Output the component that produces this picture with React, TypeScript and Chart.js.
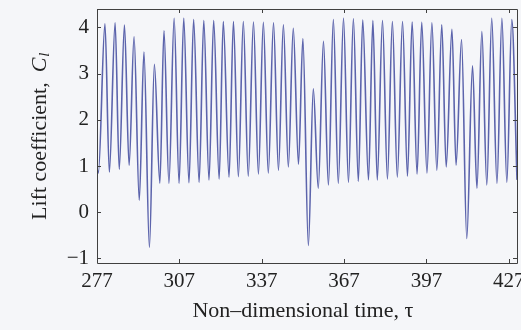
import React, { useEffect, useRef } from "react";
import { Chart, registerables } from "chart.js";

Chart.register(...registerables);

// Lift coefficient history: successive peaks and troughs of the shedding cycle
const timeTau = [
  277.0, 277.5, 279.9, 281.5, 283.6, 285.1, 287.0, 288.7, 290.5, 292.4,
  294.1, 296.1, 297.9, 299.9, 301.4, 303.2, 305.1, 306.9, 308.6, 310.5,
  312.2, 314.2, 315.9, 317.8, 319.5, 321.5, 323.0, 325.1, 326.7, 328.5,
  330.3, 332.1, 334.0, 335.8, 337.6, 339.4, 341.3, 343.1, 344.9, 346.7,
  348.5, 350.4, 352.0, 354.0, 355.8, 357.6, 359.5, 361.3, 363.1, 364.9,
  366.8, 368.6, 370.4, 372.2, 373.8, 375.9, 377.5, 379.1, 381.0, 382.8,
  384.6, 386.4, 388.3, 390.1, 391.8, 393.6, 395.3, 397.2, 399.0, 400.8,
  402.6, 404.2, 406.3, 407.8, 409.8, 411.7, 413.8, 415.4, 417.2, 419.0,
  420.8, 422.7, 424.5, 426.3, 428.1, 430.0,
];

const liftCl = [
  0.95, 0.85, 4.08, 0.87, 4.10, 0.93, 4.05, 1.02, 3.80, 0.26,
  3.47, -0.76, 3.20, 0.63, 3.93, 0.63, 4.20, 0.63, 4.20, 0.64,
  4.17, 0.65, 4.15, 0.70, 4.15, 0.72, 4.13, 0.76, 4.13, 0.77,
  4.13, 0.78, 4.12, 0.83, 4.11, 0.85, 4.10, 0.91, 4.06, 0.98,
  3.98, 1.04, 3.76, -0.72, 2.67, 0.52, 3.70, 0.59, 4.17, 0.63,
  4.20, 0.65, 4.19, 0.67, 4.16, 0.70, 4.15, 0.70, 4.15, 0.72,
  4.13, 0.76, 4.13, 0.78, 4.12, 0.83, 4.11, 0.85, 4.10, 0.91,
  4.06, 0.98, 3.96, 1.02, 3.74, -0.57, 3.17, 0.52, 3.91, 0.59,
  4.20, 0.63, 4.20, 0.65, 4.17, 0.70,
];

const xTickValues = [277, 307, 337, 367, 397, 427];
const yTickValues = [-1, 0, 1, 2, 3, 4];
const xRange = [277, 430];
const yRange = [-1.1, 4.4];

const xAxisTitle = "Non\u2013dimensional time, \u03c4";
const yAxisTitle = "Lift coefficient,";
const yAxisSymbol = "C";
const yAxisSubscript = "l";

const PAGE_BG = "#f5f6f9";
const LINE_COLOR = "rgb(92, 100, 172)";
const INK = "#222222";
const FRAME = "#404040";
const SERIF = "'Liberation Serif', 'Times New Roman', serif";

// Paper background, the boxed frame with inward ticks, and the axis titles
const framePlugin = {
  id: "frameAndTitles",
  beforeDraw(chart: any) {
    const { ctx, width, height } = chart;
    ctx.save();
    ctx.fillStyle = PAGE_BG;
    ctx.fillRect(0, 0, width, height);
    ctx.restore();
  },
  afterDraw(chart: any) {
    const { ctx } = chart;
    const { left, right, top, bottom } = chart.chartArea;
    const xs = chart.scales.x;
    const ys = chart.scales.y;
    const tick = 4;

    ctx.save();
    ctx.strokeStyle = FRAME;
    ctx.lineWidth = 1;
    ctx.beginPath();
    ctx.rect(Math.round(left) + 0.5, Math.round(top) + 0.5, Math.round(right - left), Math.round(bottom - top));
    for (const v of xTickValues) {
      const px = Math.round(xs.getPixelForValue(v)) + 0.5;
      ctx.moveTo(px, bottom);
      ctx.lineTo(px, bottom - tick);
      ctx.moveTo(px, top);
      ctx.lineTo(px, top + tick);
    }
    for (const v of yTickValues) {
      const py = Math.round(ys.getPixelForValue(v)) + 0.5;
      ctx.moveTo(left, py);
      ctx.lineTo(left + tick, py);
      ctx.moveTo(right, py);
      ctx.lineTo(right - tick, py);
    }
    ctx.stroke();

    // x title, centred on the labelled tick span
    ctx.fillStyle = INK;
    ctx.font = `22px ${SERIF}`;
    ctx.textAlign = "center";
    ctx.textBaseline = "alphabetic";
    const xMid =
      (xs.getPixelForValue(xTickValues[0]) + xs.getPixelForValue(xTickValues[xTickValues.length - 1])) / 2;
    ctx.fillText(xAxisTitle, xMid, 317);

    // y title, rotated, with italic C and subscript l
    ctx.translate(46, 220);
    ctx.rotate(-Math.PI / 2);
    ctx.textAlign = "left";
    ctx.font = `22px ${SERIF}`;
    ctx.fillText(yAxisTitle, 0, 0);
    let pos = ctx.measureText(yAxisTitle).width + 10;
    ctx.font = `italic 22px ${SERIF}`;
    ctx.fillText(yAxisSymbol, pos, 0);
    pos += ctx.measureText(yAxisSymbol).width + 1;
    ctx.font = `italic 15px ${SERIF}`;
    ctx.fillText(yAxisSubscript, pos, 3);
    ctx.restore();
  },
};

export default function App() {
  const canvasRef = useRef<HTMLCanvasElement | null>(null);

  useEffect(() => {
    document.body.style.margin = "0";
    document.body.style.background = PAGE_BG;
    const canvas = canvasRef.current;
    if (!canvas) return;

    const points = timeTau.map((t, i) => ({ x: t, y: liftCl[i] }));

    const chart = new Chart(canvas, {
      type: "line",
      data: {
        datasets: [
          {
            data: points,
            borderColor: LINE_COLOR,
            borderWidth: 1.6,
            pointRadius: 0,
            fill: false,
            cubicInterpolationMode: "monotone",
          },
        ],
      },
      options: {
        responsive: false,
        animation: false,
        devicePixelRatio: 1,
        layout: { padding: { left: 0, right: 4, top: 9, bottom: 0 } },
        plugins: {
          legend: { display: false },
          tooltip: { enabled: false },
          title: { display: false },
        },
        scales: {
          x: {
            type: "linear",
            min: xRange[0],
            max: xRange[1],
            grid: { display: false, drawTicks: false },
            border: { display: false },
            ticks: {
              color: INK,
              font: { family: SERIF, size: 21 },
              padding: 6,
              maxRotation: 0,
              autoSkip: false,
            },
            afterBuildTicks: (scale: any) => {
              scale.ticks = xTickValues.map((v) => ({ value: v }));
            },
            afterFit: (scale: any) => {
              scale.height = 67;
              scale.paddingLeft = 0;
              scale.paddingRight = 0;
            },
          },
          y: {
            type: "linear",
            min: yRange[0],
            max: yRange[1],
            grid: { display: false, drawTicks: false },
            border: { display: false },
            ticks: {
              color: INK,
              font: { family: SERIF, size: 21 },
              padding: 8,
              autoSkip: false,
              callback: (v: any) => String(v).replace("-", "\u2212"),
            },
            afterBuildTicks: (scale: any) => {
              scale.ticks = yTickValues.map((v) => ({ value: v }));
            },
            afterFit: (scale: any) => {
              scale.width = 97;
              scale.paddingTop = 0;
              scale.paddingBottom = 0;
            },
          },
        },
      },
      plugins: [framePlugin],
    });

    return () => chart.destroy();
  }, []);

  return (
    <div style={{ width: 521, height: 330 }}>
      <canvas ref={canvasRef} width={521} height={330} style={{ display: "block" }} />
    </div>
  );
}
